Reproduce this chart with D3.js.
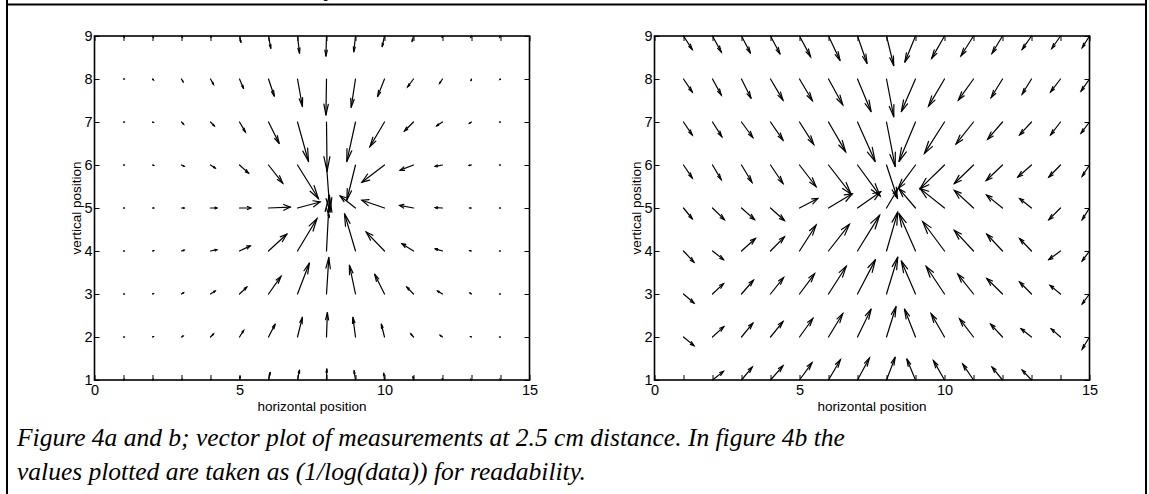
<!DOCTYPE html>
<html lang="en">
  <head>
    <title>Figure 4a and b: vector plots at 2.5 cm</title>
    <meta charset="UTF-8" />
    <script src="https://cdn.jsdelivr.net/npm/d3@7/dist/d3.min.js"></script>
    <style>
      html,
      body {
        margin: 0;
        padding: 0;
        background: #fff;
      }

      svg {
        display: block;
      }
    </style>
  </head>
  <body>
    <script>
      // grid of measurement positions
      const gridY = [9, 8, 7, 6, 5, 4, 3, 2, 1];
      const gridXa = [1, 2, 3, 4, 5, 6, 7, 8, 9, 10, 11, 12, 13, 14];
      const gridXb = [1, 2, 3, 4, 5, 6, 7, 8, 9, 10, 11, 12, 13, 14, 15];

      // figure 4a: raw vectors (rows y = 9 .. 1, columns x = 1 .. 14)
      const uA = [
        [0.02, 0.02, 0.02, 0.02, 0.05, 0.08, 0.07, -0.02, -0.06, -0.08, -0.05, -0.02, -0.02, -0.02],
        [0.02, 0.03, 0.05, 0.1, 0.14, 0.2, 0.17, -0.02, -0.15, -0.24, -0.2, -0.1, -0.02, -0.02],
        [0.02, 0.03, 0.07, 0.13, 0.2, 0.37, 0.38, 0.02, -0.3, -0.5, -0.31, -0.2, -0.07, -0.02],
        [0.02, 0.04, 0.09, 0.16, 0.31, 0.49, 0.72, 0.12, -0.3, -0.78, -0.46, -0.25, -0.08, -0.02],
        [0.02, 0.04, 0.09, 0.22, 0.39, 0.75, 0.78, 0.1, -0.53, -0.78, -0.48, -0.25, -0.06, -0.02],
        [0.02, 0.04, 0.09, 0.22, 0.37, 0.63, 0.67, 0.1, -0.38, -0.63, -0.4, -0.25, -0.06, -0.02],
        [0.02, 0.03, 0.07, 0.16, 0.25, 0.43, 0.41, 0.08, -0.21, -0.34, -0.23, -0.17, -0.05, -0.02],
        [0.02, 0.03, 0.05, 0.1, 0.14, 0.23, 0.17, 0.03, -0.09, -0.11, -0.09, -0.08, -0.03, -0.02],
        [0.01, 0.01, 0.01, 0.01, 0.02, 0.06, 0.07, 0.01, -0.05, -0.03, -0.02, -0.01, -0.01, -0.01],
      ];
      const vA = [
        [-0.02, -0.02, -0.02, -0.03, -0.15, -0.29, -0.4, -0.47, -0.37, -0.25, -0.13, -0.03, -0.02, -0.02],
        [0, -0.02, -0.06, -0.12, -0.22, -0.4, -0.64, -0.84, -0.66, -0.41, -0.18, -0.1, -0.04, -0.01],
        [0, -0.01, -0.05, -0.09, -0.23, -0.5, -0.92, -1.15, -0.92, -0.57, -0.21, -0.09, -0.03, 0],
        [0, -0.01, -0.03, -0.07, -0.19, -0.42, -0.78, -1.1, -0.82, -0.4, -0.12, -0.03, -0.01, 0],
        [0, 0, 0, 0, 0, 0.02, 0.14, -0.22, 0.28, 0.18, 0.06, 0.01, 0, 0],
        [0, 0.01, 0.02, 0.03, 0.12, 0.39, 0.75, 1.3, 0.87, 0.44, 0.17, 0.05, 0.01, 0],
        [0, 0.01, 0.03, 0.07, 0.16, 0.41, 0.72, 0.85, 0.67, 0.46, 0.16, 0.07, 0.02, 0],
        [0, 0.01, 0.02, 0.07, 0.15, 0.3, 0.46, 0.57, 0.46, 0.3, 0.07, 0.04, 0.01, 0],
        [0.01, 0.01, 0.01, 0.02, 0.08, 0.18, 0.23, 0.26, 0.22, 0.16, 0.08, 0.03, 0.01, 0.01],
      ];

      // figure 4b: 1/log(data) (rows y = 9 .. 1, columns x = 1 .. 15)
      const uB = [
        [0.3, 0.3, 0.31, 0.33, 0.38, 0.4, 0.33, 0.25, -0.37, -0.44, -0.43, -0.36, -0.32, -0.3, -0.25],
        [0.3, 0.3, 0.33, 0.43, 0.44, 0.49, 0.47, 0.25, -0.49, -0.55, -0.52, -0.39, -0.32, -0.34, -0.29],
        [0.3, 0.32, 0.39, 0.43, 0.49, 0.59, 0.61, 0.3, -0.57, -0.69, -0.6, -0.51, -0.41, -0.34, -0.29],
        [0.3, 0.3, 0.36, 0.43, 0.57, 0.78, 0.78, 0.38, -0.6, -0.84, -0.66, -0.56, -0.47, -0.4, -0.25],
        [0.3, 0.41, 0.45, 0.48, 0.63, 0.82, 0.8, 0.38, -0.57, -0.84, -0.66, -0.55, -0.41, -0.4, -0.25],
        [0.36, 0.38, 0.48, 0.48, 0.57, 0.72, 0.76, 0.39, -0.57, -0.75, -0.66, -0.54, -0.41, -0.4, -0.25],
        [0.36, 0.38, 0.41, 0.45, 0.52, 0.61, 0.62, 0.39, -0.49, -0.63, -0.54, -0.54, -0.41, -0.36, -0.25],
        [0.36, 0.39, 0.39, 0.43, 0.46, 0.49, 0.47, 0.33, -0.38, -0.46, -0.48, -0.41, -0.36, -0.32, -0.25],
        [0, 0.38, 0.37, 0.43, 0.43, 0.41, 0.41, 0.3, -0.3, -0.38, -0.37, -0.36, -0.32, 0, 0],
      ];
      const vB = [
        [-0.31, -0.37, -0.4, -0.42, -0.48, -0.57, -0.64, -0.69, -0.61, -0.52, -0.46, -0.4, -0.31, -0.29, -0.27],
        [-0.3, -0.37, -0.45, -0.49, -0.5, -0.6, -0.76, -0.88, -0.76, -0.63, -0.49, -0.43, -0.35, -0.3, -0.28],
        [-0.3, -0.34, -0.36, -0.42, -0.52, -0.69, -0.92, -1.04, -0.92, -0.73, -0.51, -0.4, -0.3, -0.3, -0.26],
        [-0.3, -0.34, -0.4, -0.43, -0.5, -0.68, -0.72, -0.78, -0.55, -0.55, -0.43, -0.36, -0.28, -0.28, -0.26],
        [-0.25, -0.27, -0.27, -0.29, 0.22, 0.33, 0.38, 0.43, 0.45, 0.45, 0.41, 0.3, 0.22, -0.27, -0.27],
        [-0.26, -0.2, 0.29, 0.33, 0.6, 0.62, 0.83, 0.91, 0.87, 0.68, 0.48, 0.39, 0.29, -0.2, -0.23],
        [-0.21, 0.24, 0.32, 0.38, 0.47, 0.64, 0.8, 0.86, 0.77, 0.64, 0.46, 0.36, 0.28, 0.2, -0.23],
        [-0.2, 0.24, 0.32, 0.36, 0.43, 0.54, 0.65, 0.71, 0.65, 0.54, 0.42, 0.3, 0.19, 0.19, -0.28],
        [0, 0.2, 0.3, 0.33, 0.4, 0.47, 0.51, 0.53, 0.49, 0.45, 0.37, 0.3, 0.23, 0, 0],
      ];

      const xTicks = d3.range(0, 16);
      const xTickLabels = [0, 5, 10, 15];
      const yTicks = [1, 2, 3, 4, 5, 6, 7, 8, 9];
      const captionLines = [
        "Figure 4a and b; vector plot of measurements at 2.5 cm distance. In figure 4b the",
        "values plotted are taken as (1/log(data)) for readability.",
      ];

      const width = 1149;
      const height = 494;
      const plotW = 435;
      const plotTop = 36;
      const plotBottom = 380;
      const sansFont = '"Liberation Sans", Arial, Helvetica, sans-serif';
      const serifFont = '"Liberation Serif", "Times New Roman", Times, serif';

      // matlab style arrow head, built in data units
      const alpha = 0.3;
      const beta = 0.3;

      const svg = d3
        .select(document.body)
        .append("svg")
        .attr("width", width)
        .attr("height", height)
        .attr("viewBox", [0, 0, width, height]);

      svg.append("rect").attr("width", width).attr("height", height).attr("fill", "#fff");

      // frame of the surrounding table cell
      const frame = svg.append("g").attr("stroke", "#000").attr("stroke-width", 2);
      frame.append("line").attr("x1", 7).attr("x2", 7).attr("y1", 0).attr("y2", height);
      frame.append("line").attr("x1", width - 3).attr("x2", width - 3).attr("y1", 0).attr("y2", height);
      frame.append("line").attr("x1", 6).attr("x2", width - 2).attr("y1", 4.5).attr("y2", 4.5);

      // tail of the line above, cut by the crop
      svg
        .append("text")
        .attr("x", 326)
        .attr("y", -4)
        .attr("font-family", serifFont)
        .attr("font-style", "italic")
        .attr("font-size", 26)
        .text("y");

      const drawQuiver = (left, gridX, U, V) => {
        const x = d3.scaleLinear().domain([0, 15]).range([left, left + plotW]);
        const y = d3.scaleLinear().domain([1, 9]).range([plotBottom, plotTop]);

        const g = svg.append("g");

        const arrows = [];
        gridY.forEach((yy, i) => {
          gridX.forEach((xx, j) => {
            const u = U[i][j];
            const v = V[i][j];
            if (u === 0 && v === 0) return;
            arrows.push({ x: xx, y: yy, u, v });
          });
        });

        const q = g
          .append("g")
          .attr("fill", "none")
          .attr("stroke", "#000")
          .attr("stroke-width", 1.2)
          .attr("stroke-linecap", "round")
          .selectAll("g")
          .data(arrows)
          .join("g");

        q.append("line")
          .attr("x1", (d) => x(d.x))
          .attr("y1", (d) => y(d.y))
          .attr("x2", (d) => x(d.x + d.u))
          .attr("y2", (d) => y(d.y + d.v));

        q.append("path").attr("d", (d) => {
          const tx = d.x + d.u;
          const ty = d.y + d.v;
          const h1x = tx - alpha * (d.u + beta * d.v);
          const h1y = ty - alpha * (d.v - beta * d.u);
          const h2x = tx - alpha * (d.u - beta * d.v);
          const h2y = ty - alpha * (d.v + beta * d.u);
          return `M${x(h1x)},${y(h1y)}L${x(tx)},${y(ty)}L${x(h2x)},${y(h2y)}`;
        });

        // axes, ticks pointing inward
        const styleAxis = (sel) => {
          sel.select(".domain").remove();
          sel.selectAll(".tick line").attr("stroke", "#000").attr("stroke-width", 1);
          sel
            .selectAll(".tick text")
            .attr("fill", "#000")
            .attr("font-family", sansFont)
            .attr("font-size", 14.5);
        };

        g.append("g")
          .attr("transform", `translate(0,${plotBottom})`)
          .call(
            d3
              .axisBottom(x)
              .tickValues(xTicks)
              .tickSizeInner(-5)
              .tickSizeOuter(0)
              .tickPadding(5)
              .tickFormat((d) => (xTickLabels.includes(d) ? d : ""))
          )
          .call(styleAxis);

        g.append("g")
          .attr("transform", `translate(0,${plotTop})`)
          .call(d3.axisTop(x).tickValues(xTicks).tickSizeInner(-5).tickSizeOuter(0).tickFormat(""))
          .call(styleAxis);

        g.append("g")
          .attr("transform", `translate(${left},0)`)
          .call(d3.axisLeft(y).tickValues(yTicks).tickSizeInner(-5).tickSizeOuter(0).tickPadding(2))
          .call(styleAxis);

        g.append("g")
          .attr("transform", `translate(${left + plotW},0)`)
          .call(d3.axisRight(y).tickValues(yTicks).tickSizeInner(-5).tickSizeOuter(0).tickFormat(""))
          .call(styleAxis);

        g.append("rect")
          .attr("x", left)
          .attr("y", plotTop)
          .attr("width", plotW)
          .attr("height", plotBottom - plotTop)
          .attr("fill", "none")
          .attr("stroke", "#000")
          .attr("stroke-width", 1.6);

        g.append("text")
          .attr("x", left + plotW / 2)
          .attr("y", 411)
          .attr("text-anchor", "middle")
          .attr("font-family", sansFont)
          .attr("font-size", 13.5)
          .text("horizontal position");

        g.append("text")
          .attr("transform", `translate(${left - 14},${(plotTop + plotBottom) / 2}) rotate(-90)`)
          .attr("text-anchor", "middle")
          .attr("font-family", sansFont)
          .attr("font-size", 13.5)
          .text("vertical position");
      };

      drawQuiver(94.5, gridXa, uA, vA);
      drawQuiver(654.5, gridXb, uB, vB);

      svg
        .append("g")
        .attr("font-family", serifFont)
        .attr("font-style", "italic")
        .attr("font-size", 25.5)
        .selectAll("text")
        .data(captionLines)
        .join("text")
        .attr("x", 17)
        .attr("y", (d, i) => 446 + i * 34)
        .text((d) => d);
    </script>
  </body>
</html>
